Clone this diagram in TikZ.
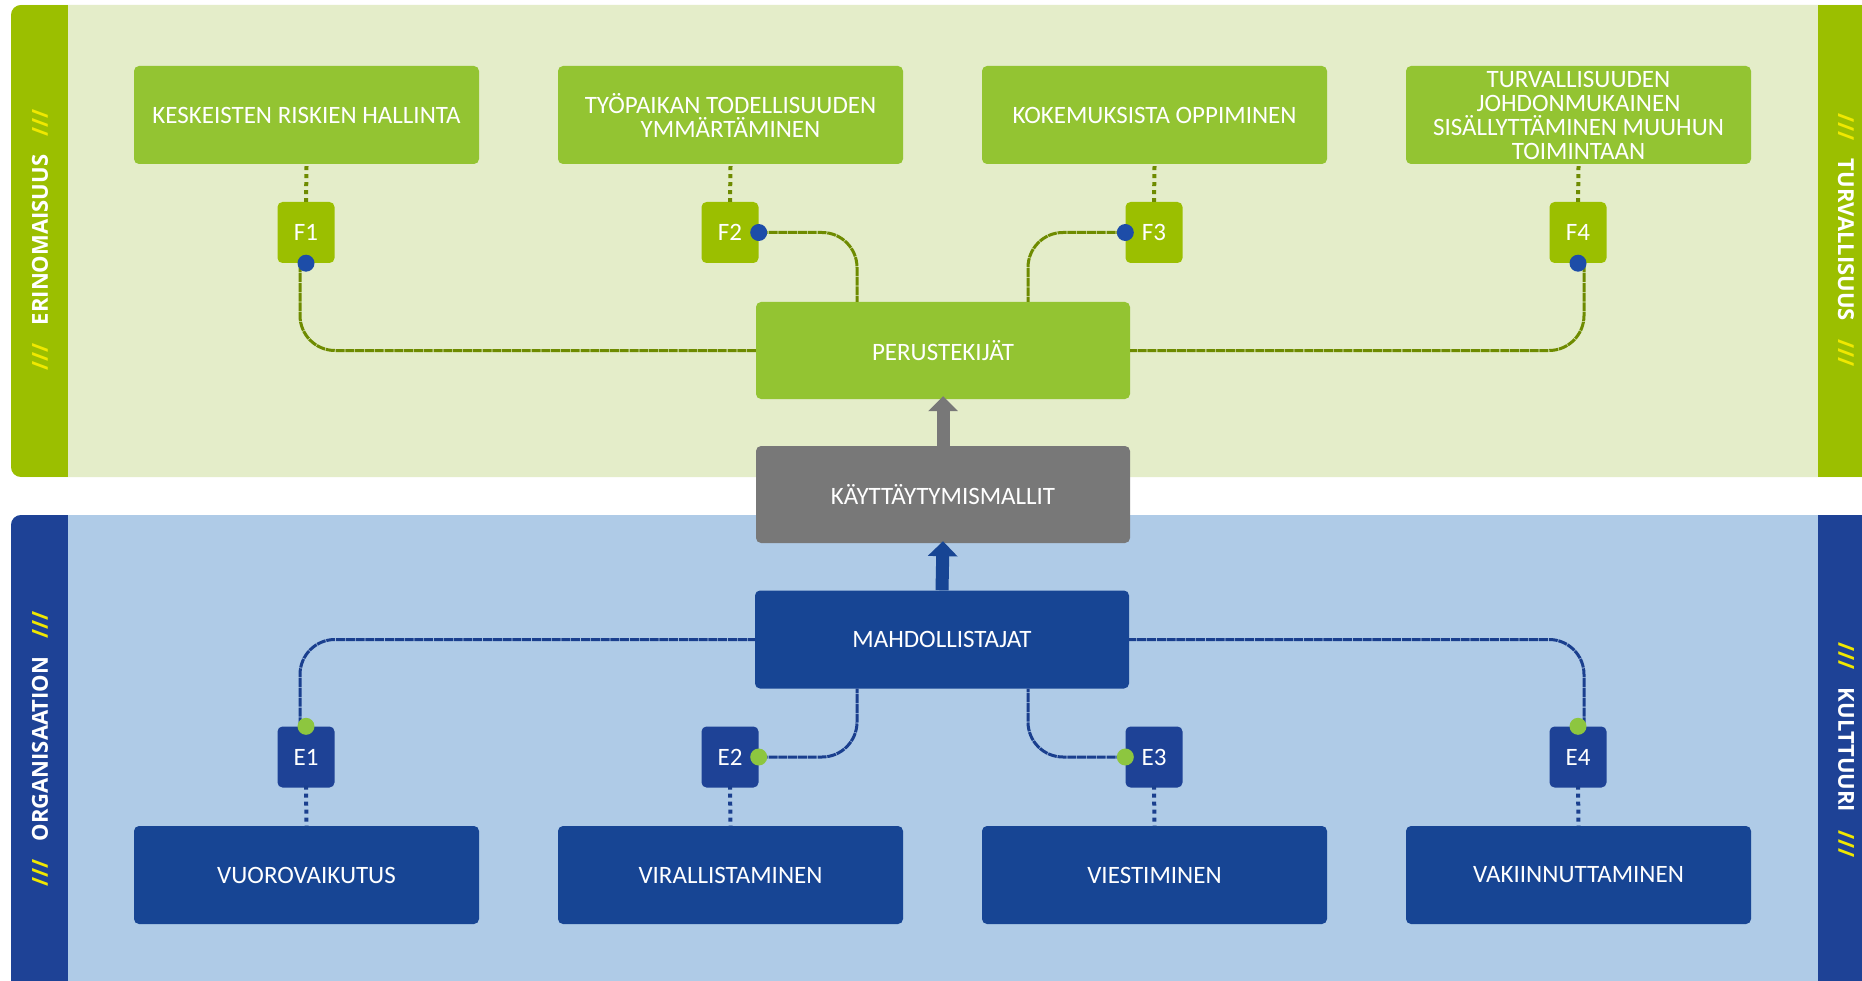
\documentclass[tikz,border=0pt]{standalone}
\usepackage{fontspec}
\setmainfont{Carlito}
\newfontfamily\sidefont{Open Sans}
\usetikzlibrary{arrows.meta}
\definecolor{gbg}{RGB}{228,237,201}
\definecolor{gdark}{RGB}{155,191,0}
\definecolor{gbox}{RGB}{147,196,50}
\definecolor{gline}{RGB}{110,139,0}
\definecolor{bbg}{RGB}{175,203,231}
\definecolor{bdark}{RGB}{30,66,150}
\definecolor{bbox}{RGB}{23,69,148}
\definecolor{bline}{RGB}{26,63,142}
\definecolor{dotblue}{RGB}{29,77,168}
\definecolor{dotgreen}{RGB}{141,198,63}
\definecolor{grayb}{RGB}{120,120,120}
\definecolor{slash}{RGB}{240,232,0}
\begin{document}
\begin{tikzpicture}[x=1pt,y=-1pt,
  boxfont/.style={font=\fontsize{25}{24}\selectfont},
  bigbox/.style={rectangle, rounded corners=5pt, text=white, minimum width=345pt, minimum height=98pt, inner sep=0pt, align=center, boxfont},
  topbox/.style={bigbox, fill=gbox},
  botbox/.style={bigbox, fill=bbox},
  midbox/.style={rectangle, rounded corners=5pt, text=white, minimum width=374pt, minimum height=97pt, inner sep=0pt, align=center, boxfont},
  smallbox/.style={rectangle, rounded corners=5pt, text=white, minimum width=57pt, minimum height=61pt, inner sep=0pt, boxfont},
  fbox/.style={smallbox, fill=gdark},
  ebox/.style={smallbox, fill=bdark},
  gconn/.style={draw=gline, line width=3pt, dash pattern=on 9pt off 0.8pt, rounded corners=35pt},
  bconn/.style={draw=bline, line width=3pt, dash pattern=on 9pt off 0.8pt, rounded corners=35pt},
  gdots/.style={draw=gline, line width=4pt, dash pattern=on 4pt off 4pt},
  bdots/.style={draw=bline, line width=4pt, dash pattern=on 4pt off 4pt},
  sidelabel/.style={text=white, inner sep=0pt, font=\sidefont\bfseries\fontsize{22}{22}\selectfont}
]
\useasboundingbox (0,0) rectangle (1862,981);
\fill[white] (0,0) rectangle (1862,981);
% top panel
\begin{scope}
  \clip[rounded corners=10pt] (11,5) rectangle (1900,477);
  \fill[gbg] (0,0) rectangle (1862,500);
  \fill[gdark] (11,5) rectangle (68,477);
  \fill[gdark] (1818,5) rectangle (1862,477);
\end{scope}
% bottom panel
\begin{scope}
  \clip[rounded corners=10pt] (11,515) rectangle (1900,1010);
  \fill[bbg] (0,500) rectangle (1862,981);
  \fill[bdark] (11,515) rectangle (68,981);
  \fill[bdark] (1818,515) rectangle (1862,981);
\end{scope}
% side labels
\node[sidelabel, rotate=90] (s1) at (40,240) {\textcolor{slash}{///}\hspace{18pt}ERINOMAISUUS\hspace{18pt}\textcolor{slash}{///}};
\node[sidelabel, rotate=-90] (s2) at (1846,240) {\textcolor{slash}{///}\hspace{18pt}TURVALLISUUS\hspace{18pt}\textcolor{slash}{///}};
\node[sidelabel, rotate=90] (s3) at (40,749) {\textcolor{slash}{///}\hspace{18pt}ORGANISAATION\hspace{18pt}\textcolor{slash}{///}};
\node[sidelabel, rotate=-90] (s4) at (1846,750) {\textcolor{slash}{///}\hspace{18pt}KULTTUURI\hspace{18pt}\textcolor{slash}{///}};
% top boxes
\node[topbox] (t1) at (306.5,115) {KESKEISTEN RISKIEN HALLINTA};
\node[topbox] (t2) at (730.5,115) {TYÖPAIKAN TODELLISUUDEN\\YMMÄRTÄMINEN};
\node[topbox] (t3) at (1154.5,115) {KOKEMUKSISTA OPPIMINEN};
\node[topbox] (t4) at (1578.5,115) {TURVALLISUUDEN\\JOHDONMUKAINEN\\SISÄLLYTTÄMINEN MUUHUN\\TOIMINTAAN};
\node[fbox] (f1) at (306,232.5) {F1};
\node[fbox] (f2) at (730,232.5) {F2};
\node[fbox] (f3) at (1154,232.5) {F3};
\node[fbox] (f4) at (1578,232.5) {F4};
% middle
\node[midbox, fill=gbox] (per) at (943,350.5) {PERUSTEKIJÄT};
\node[midbox, fill=grayb] (kay) at (943,494.5) {KÄYTTÄYTYMISMALLIT};
\node[midbox, fill=bbox, minimum height=98pt] (mah) at (942,639.5) {MAHDOLLISTAJAT};
% bottom
\node[ebox] (e1) at (306,757) {E1};
\node[ebox] (e2) at (730,757) {E2};
\node[ebox] (e3) at (1154,757) {E3};
\node[ebox] (e4) at (1578,757) {E4};
\node[botbox] (b1) at (306.5,875) {VUOROVAIKUTUS};
\node[botbox] (b2) at (730.5,875) {VIRALLISTAMINEN};
\node[botbox] (b3) at (1154.5,875) {VIESTIMINEN};
\node[botbox] (b4) at (1578.5,875) {VAKIINNUTTAMINEN};
% dotted links
\foreach \i in {1,2,3,4} {
  \draw[gdots] ([yshift=-2pt]t\i.south) -- (f\i.north);
  \draw[bdots] ([yshift=2pt]e\i.south) -- (b\i.north);
}
% connectors top
\draw[gconn] ([xshift=-6pt]f1.south) |- (per.west);
\draw[gconn] ([xshift=6pt]f4.south) |- (per.east);
\draw[gconn] (f2.east) -| ([xshift=-86pt]per.north);
\draw[gconn] (f3.west) -| ([xshift=85pt]per.north);
% connectors bottom
\draw[bconn] ([xshift=-6pt]e1.north) |- (mah.west);
\draw[bconn] ([xshift=6pt]e4.north) |- (mah.east);
\draw[bconn] (e2.east) -| ([xshift=-85pt]mah.south);
\draw[bconn] (e3.west) -| ([xshift=86pt]mah.south);
% dots
\fill[dotblue] (f1.south) circle (8.5pt);
\fill[dotblue] (f4.south) circle (8.5pt);
\fill[dotblue] (f2.east) circle (8.5pt);
\fill[dotblue] (f3.west) circle (8.5pt);
\fill[dotgreen] (e1.north) circle (8.5pt);
\fill[dotgreen] (e4.north) circle (8.5pt);
\fill[dotgreen] (e2.east) circle (8.5pt);
\fill[dotgreen] (e3.west) circle (8.5pt);
% arrows
\draw[grayb, line width=13pt, -{Triangle[width=29pt,length=15pt]}] (kay.north) -- ([yshift=3pt]per.south);
\draw[bbox, line width=13pt, -{Triangle[width=29pt,length=15pt]}] (mah.north) -- ([yshift=2pt]kay.south);
\end{tikzpicture}
\end{document}
